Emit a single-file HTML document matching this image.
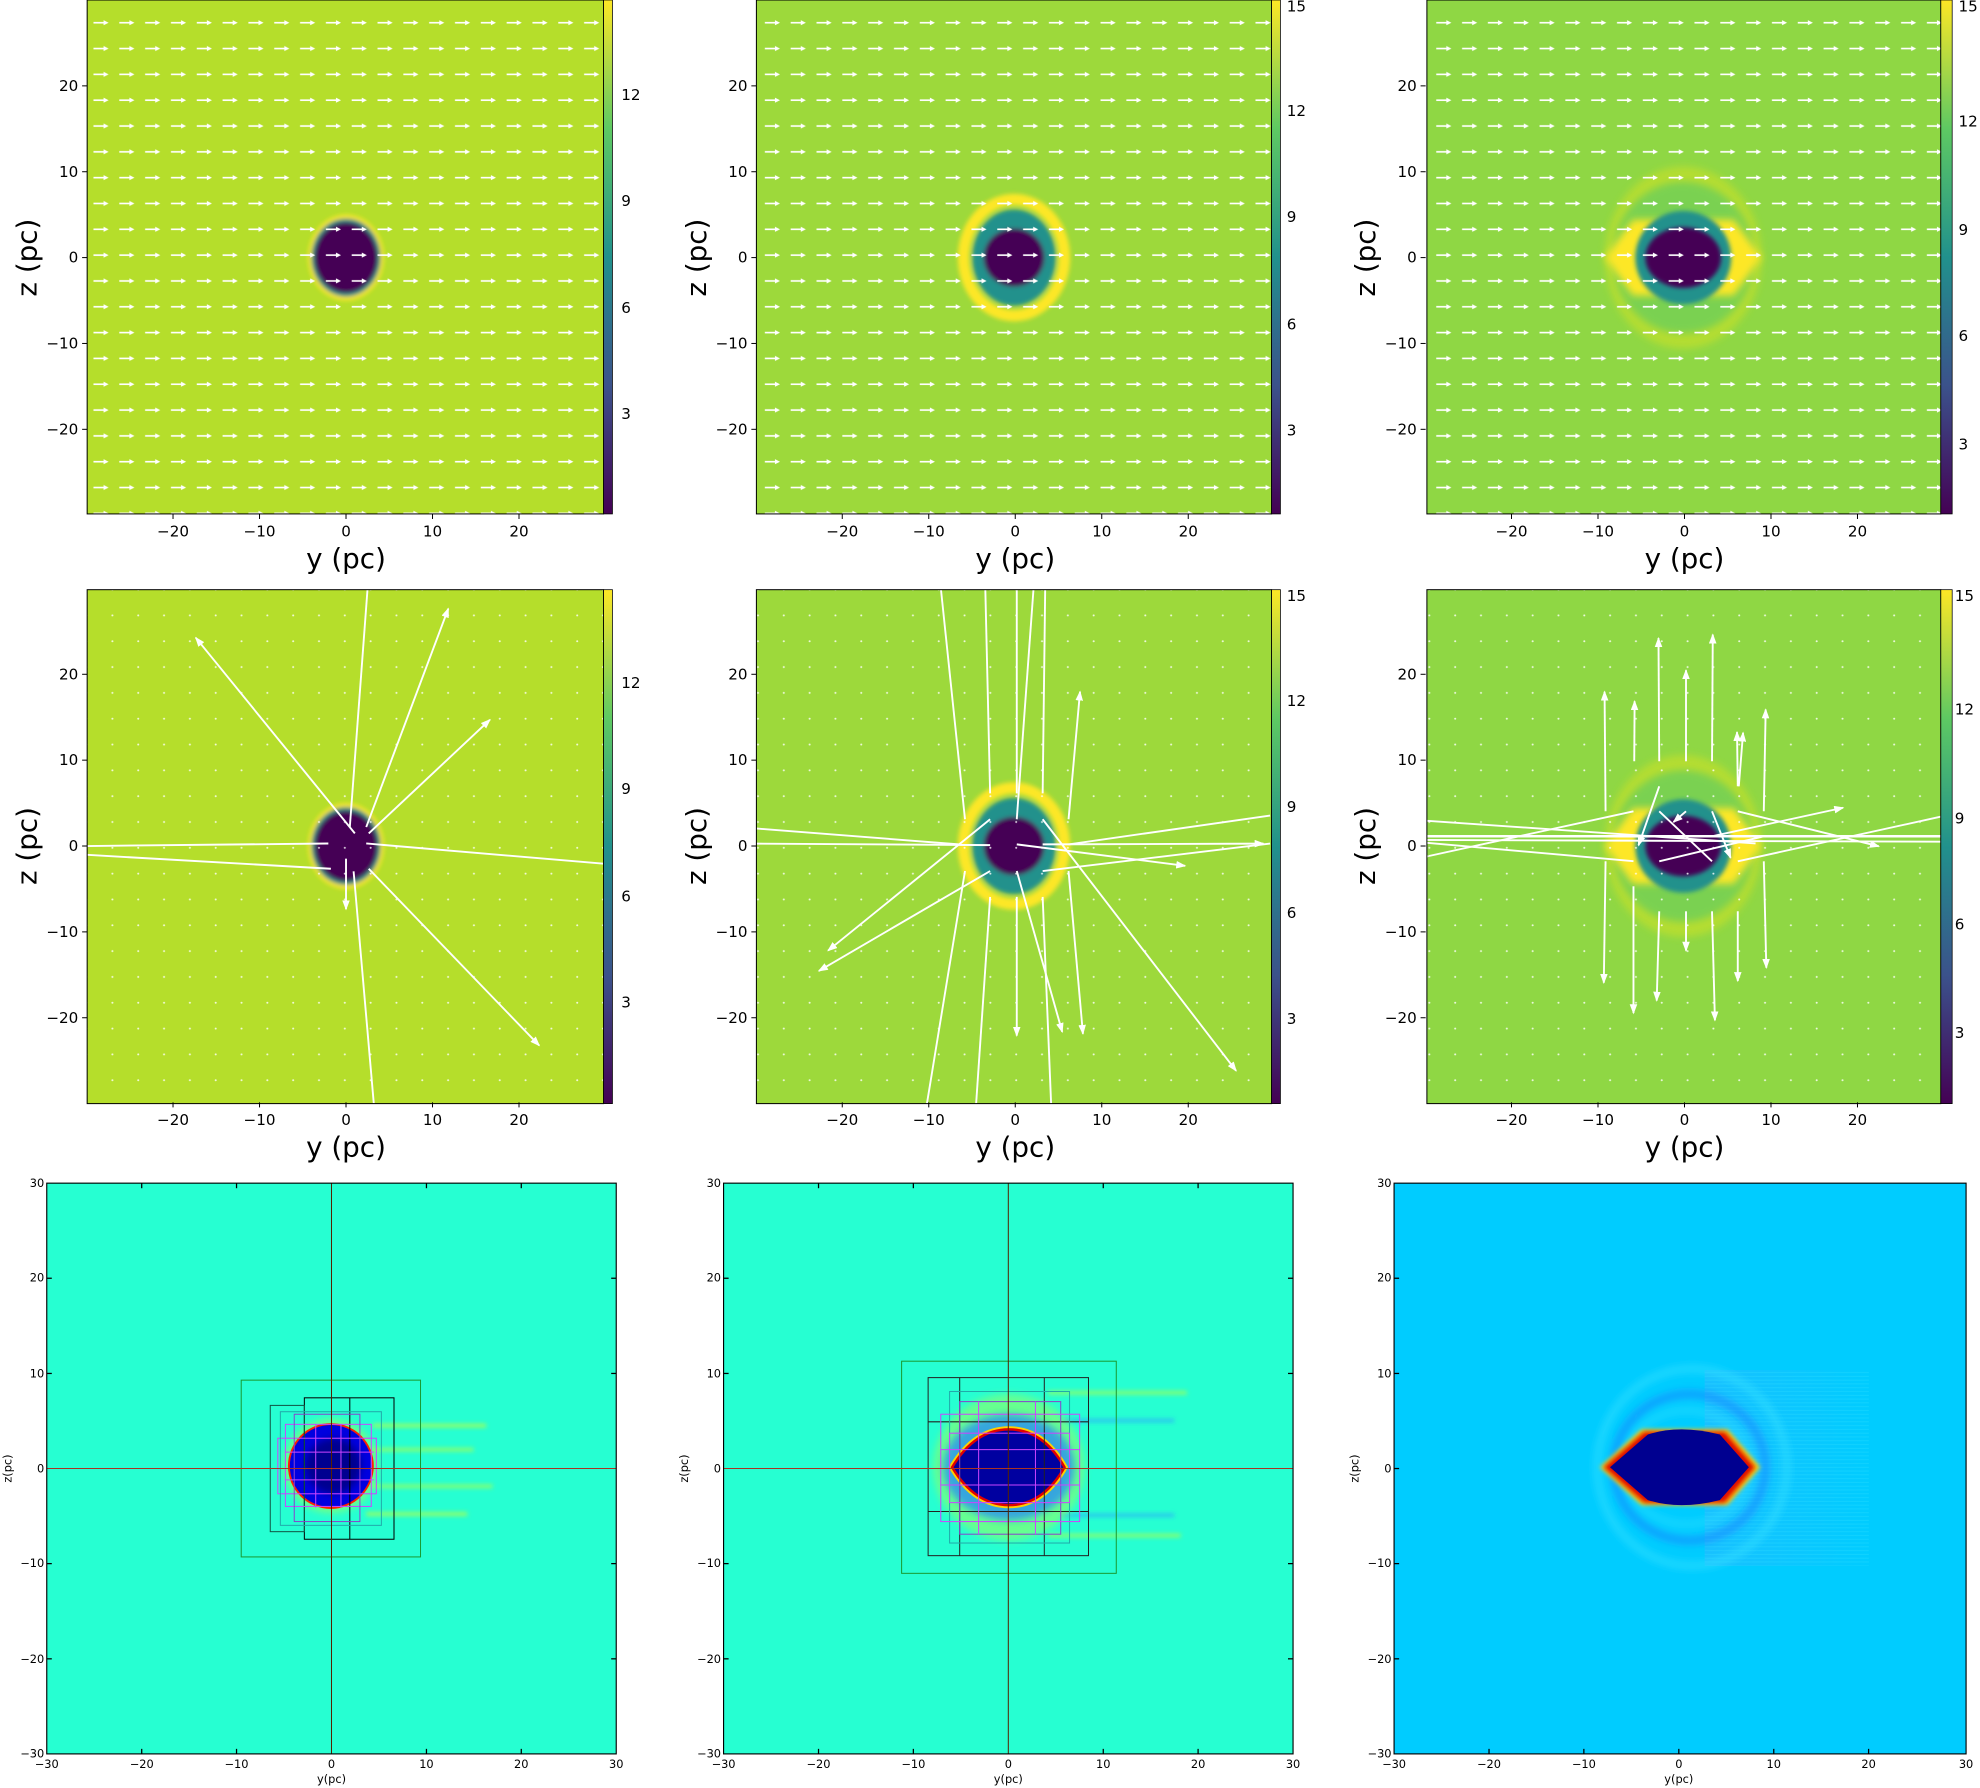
<!DOCTYPE html>
<html><head><meta charset="utf-8"><style>
html,body{margin:0;padding:0;background:#fff;}
svg{display:block;}
text{font-family:"DejaVu Sans","Liberation Sans",sans-serif;fill:#000;}
</style></head><body>
<svg width="1980" height="1788" viewBox="0 0 1568 1416" xmlns="http://www.w3.org/2000/svg">
<defs>
<linearGradient id="vir" x1="0" y1="1" x2="0" y2="0">
<stop offset="0" stop-color="#440154"/><stop offset="0.25" stop-color="#3b528b"/><stop offset="0.5" stop-color="#21918c"/><stop offset="0.75" stop-color="#5ec962"/><stop offset="1" stop-color="#fde725"/></linearGradient>
<linearGradient id="wake" x1="0" y1="0" x2="1" y2="0">
<stop offset="0" stop-color="#2ab8ff" stop-opacity="0.6"/><stop offset="1" stop-color="#2ab8ff" stop-opacity="0"/></linearGradient>
<pattern id="qv" patternUnits="userSpaceOnUse" x="73" y="8" width="20.45" height="20.45">
<line x1="1" y1="10" x2="10" y2="10" stroke="#fff" stroke-width="1.3"/><path d="M9,8 L13,10 L9,12Z" fill="#fff"/></pattern>
<pattern id="dots" patternUnits="userSpaceOnUse" x="79" y="7" width="20.45" height="20.45">
<circle cx="10" cy="10" r="0.8" fill="#fff" opacity="0.8"/></pattern>
<pattern id="streak" patternUnits="userSpaceOnUse" x="0" y="0" width="40" height="3">
<line x1="0" y1="1" x2="40" y2="1" stroke="#40e8ff" stroke-width="0.7" opacity="0.5"/></pattern>
<marker id="ah" markerWidth="8" markerHeight="6" refX="7" refY="3" orient="auto" markerUnits="userSpaceOnUse"><path d="M0,0 L8,3 L0,6Z" fill="#fff"/></marker>
<filter id="bl" x="-50%" y="-50%" width="200%" height="200%"><feGaussianBlur stdDeviation="1.6"/></filter>
<filter id="bl3" x="-50%" y="-50%" width="200%" height="200%"><feGaussianBlur stdDeviation="3"/></filter>
<g id="b1" filter="url(#bl)">
<ellipse cx="0" cy="0" rx="30" ry="34" fill="#fde725"/><ellipse cx="0" cy="0" rx="27.5" ry="31" fill="#21918c"/><ellipse cx="0" cy="0" rx="25" ry="28" fill="#440154"/></g>
<g id="b2" filter="url(#bl)">
<ellipse cx="0" cy="0" rx="40" ry="46" fill="none" stroke="#fde725" stroke-width="9"/><ellipse cx="0" cy="0" rx="33" ry="38" fill="#21918c"/><ellipse cx="0" cy="0" rx="24" ry="23" fill="#440154"/></g>
<g id="b3">
<ellipse cx="0" cy="0" rx="62" ry="72" fill="#c4e02a" opacity="0.7" filter="url(#bl3)"/>
<ellipse cx="0" cy="0" rx="56" ry="60" fill="#7ad151" filter="url(#bl3)"/>
<path d="M-62,0 L-40,-30 L40,-30 L62,0 L40,30 L-40,30Z" fill="#fde725" filter="url(#bl3)"/>
<ellipse cx="0" cy="0" rx="38" ry="37" fill="#21918c" filter="url(#bl)"/>
<ellipse cx="0" cy="0" rx="30" ry="24" fill="#440154" filter="url(#bl)"/></g>
</defs>

<!-- ROW 1 -->
<rect x="69" y="0" width="409" height="407" fill="#b5de2b"/>
<rect x="599" y="0" width="408" height="407" fill="#9dd93b"/>
<rect x="1130" y="0" width="407" height="407" fill="#8fd744"/>
<use href="#b1" x="274" y="204"/><use href="#b2" x="803" y="204"/><use href="#b3" x="1333" y="204"/>
<rect x="69" y="0" width="409" height="407" fill="url(#qv)"/>
<rect x="599" y="0" width="408" height="407" fill="url(#qv)"/>
<rect x="1130" y="0" width="407" height="407" fill="url(#qv)"/>
<!-- ROW 2 -->
<rect x="69" y="467" width="409" height="407" fill="#b5de2b"/>
<rect x="599" y="467" width="408" height="407" fill="#9dd93b"/>
<rect x="1130" y="467" width="407" height="407" fill="#8fd744"/>
<use href="#b1" x="274" y="670"/><use href="#b2" x="803" y="670"/><use href="#b3" x="1333" y="670"/>
<rect x="69" y="467" width="409" height="407" fill="url(#dots)"/>
<rect x="599" y="467" width="408" height="407" fill="url(#dots)"/>
<rect x="1130" y="467" width="407" height="407" fill="url(#dots)"/>

<g stroke="#fff" stroke-width="1.5" fill="none">
<line x1="281" y1="660" x2="155" y2="505" marker-end="url(#ah)"/>
<line x1="277" y1="655" x2="291" y2="467"/>
<line x1="290" y1="655" x2="355" y2="482" marker-end="url(#ah)"/>
<line x1="292" y1="660" x2="388" y2="570" marker-end="url(#ah)"/>
<line x1="290" y1="668" x2="478" y2="684"/>
<line x1="260" y1="668" x2="69" y2="670"/>
<line x1="262" y1="688" x2="69" y2="677"/>
<line x1="292" y1="688" x2="427" y2="828" marker-end="url(#ah)"/>
<line x1="280" y1="690" x2="296" y2="874"/>
<line x1="274" y1="680" x2="274" y2="720" marker-end="url(#ah)"/>
<line x1="764.2" y1="648.8" x2="745.2" y2="467.2"/>
<line x1="784.1" y1="628.3" x2="780.3" y2="467.2"/>
<line x1="805.2" y1="628.3" x2="805.2" y2="467.2"/>
<line x1="805.2" y1="648.8" x2="818.4" y2="467.2"/>
<line x1="825.7" y1="628.3" x2="827.7" y2="467.2"/>
<line x1="846.2" y1="648.8" x2="855.3" y2="547.8" marker-end="url(#ah)"/>
<line x1="598.7" y1="656.1" x2="759.2" y2="668.7"/>
<line x1="598.7" y1="668.1" x2="784.1" y2="669.3"/>
<line x1="784.1" y1="648.8" x2="655.8" y2="752.8" marker-end="url(#ah)"/>
<line x1="784.1" y1="689.8" x2="648.5" y2="768.9" marker-end="url(#ah)"/>
<line x1="764.2" y1="689.8" x2="734" y2="874.3"/>
<line x1="784.1" y1="710.3" x2="773" y2="874.3"/>
<line x1="805.2" y1="710.3" x2="805.2" y2="820.2" marker-end="url(#ah)"/>
<line x1="805.2" y1="689.8" x2="841.2" y2="817.2" marker-end="url(#ah)"/>
<line x1="825.7" y1="710.3" x2="832.4" y2="874.3"/>
<line x1="846.2" y1="689.8" x2="857.6" y2="818.7" marker-end="url(#ah)"/>
<line x1="825.7" y1="648.8" x2="978.9" y2="848" marker-end="url(#ah)"/>
<line x1="805.2" y1="668.7" x2="938.5" y2="685.7" marker-end="url(#ah)"/>
<line x1="825.7" y1="668.7" x2="1000.6" y2="668.1" marker-end="url(#ah)"/>
<line x1="846.2" y1="668.7" x2="1005.8" y2="645.9"/>
<line x1="825.7" y1="689.8" x2="1005.8" y2="668.1"/>
<line x1="1271.5" y1="642.5" x2="1270.7" y2="547.8" marker-end="url(#ah)"/>
<line x1="1294.2" y1="602.9" x2="1294.5" y2="555.4" marker-end="url(#ah)"/>
<line x1="1314" y1="602.9" x2="1313.4" y2="505.4" marker-end="url(#ah)"/>
<line x1="1335.2" y1="602.9" x2="1335.2" y2="530.8" marker-end="url(#ah)"/>
<line x1="1355.8" y1="602.9" x2="1356.4" y2="502.6" marker-end="url(#ah)"/>
<line x1="1376.2" y1="622.7" x2="1375.6" y2="579.8" marker-end="url(#ah)"/>
<line x1="1377" y1="622.7" x2="1380.4" y2="580.3" marker-end="url(#ah)"/>
<line x1="1396.8" y1="642.5" x2="1398.3" y2="561.9" marker-end="url(#ah)"/>
<line x1="1271.5" y1="682.1" x2="1270.1" y2="778.3" marker-end="url(#ah)"/>
<line x1="1293.6" y1="701.9" x2="1293.6" y2="802.3" marker-end="url(#ah)"/>
<line x1="1314" y1="721.7" x2="1312" y2="792.4" marker-end="url(#ah)"/>
<line x1="1335.2" y1="721.7" x2="1335.2" y2="752.8" marker-end="url(#ah)"/>
<line x1="1355.8" y1="721.7" x2="1358.1" y2="808" marker-end="url(#ah)"/>
<line x1="1376.2" y1="721.7" x2="1376.2" y2="776.9" marker-end="url(#ah)"/>
<line x1="1396.8" y1="682.1" x2="1398.8" y2="766.4" marker-end="url(#ah)"/>
<line x1="1124.5" y1="662.3" x2="1536.8" y2="662.3" stroke-width="2"/>
<line x1="1124.5" y1="649.6" x2="1390.3" y2="668"/>
<line x1="1131.6" y1="677.9" x2="1293.6" y2="642.5" marker-start="url(#ah)"/>
<line x1="1124.5" y1="667" x2="1293.6" y2="682"/>
<line x1="1376.2" y1="642.5" x2="1487.9" y2="670.2" marker-end="url(#ah)"/>
<line x1="1376.2" y1="682.1" x2="1536.8" y2="646.8"/>
<line x1="1536.8" y1="666.6" x2="1124.5" y2="665.2"/>
<line x1="1355.8" y1="642.5" x2="1370.5" y2="679.3" marker-end="url(#ah)"/>
<line x1="1314" y1="622.7" x2="1297.6" y2="669.4" marker-end="url(#ah)"/>
<line x1="1314" y1="642.5" x2="1355.8" y2="682.1"/>
<line x1="1335.2" y1="642.5" x2="1325.3" y2="651" marker-end="url(#ah)"/>
<line x1="1355.8" y1="662.3" x2="1459.6" y2="639.7" marker-end="url(#ah)"/>
<line x1="1314" y1="682.1" x2="1396.8" y2="662.3"/>
</g>

<g fill="none" stroke="#000" stroke-width="0.8">
<rect x="69" y="0" width="409" height="407"/><rect x="599" y="0" width="408" height="407"/><rect x="1130" y="0" width="407" height="407"/>
<rect x="69" y="467" width="409" height="407"/><rect x="599" y="467" width="408" height="407"/><rect x="1130" y="467" width="407" height="407"/>
</g>
<g stroke="#000" stroke-width="0.6">
<rect x="478" y="0" width="7" height="407" fill="url(#vir)"/><rect x="1007" y="0" width="7" height="407" fill="url(#vir)"/><rect x="1537" y="0" width="9" height="407" fill="url(#vir)"/>
<rect x="478" y="467" width="7" height="407" fill="url(#vir)"/><rect x="1007" y="467" width="7" height="407" fill="url(#vir)"/><rect x="1537" y="467" width="9" height="407" fill="url(#vir)"/>
</g>
<g font-size="12" text-anchor="start">
<text x="492" y="79">12</text><text x="492" y="163">9</text><text x="492" y="248">6</text><text x="492" y="332">3</text>
<text x="1019" y="9">15</text><text x="1019" y="92">12</text><text x="1019" y="176">9</text><text x="1019" y="261">6</text><text x="1019" y="345">3</text>
<text x="1551" y="9">15</text><text x="1551" y="100">12</text><text x="1551" y="186">9</text><text x="1551" y="270">6</text><text x="1551" y="356">3</text>
<text x="492" y="545">12</text><text x="492" y="629">9</text><text x="492" y="714">6</text><text x="492" y="798">3</text>
<text x="1019" y="476">15</text><text x="1019" y="559">12</text><text x="1019" y="643">9</text><text x="1019" y="727">6</text><text x="1019" y="811">3</text>
<text x="1548" y="476">15</text><text x="1548" y="566">12</text><text x="1548" y="652">9</text><text x="1548" y="736">6</text><text x="1548" y="822">3</text>
</g>
<g id="ax1">
<g stroke="#000" stroke-width="0.8">
<line x1="137" y1="407" x2="137" y2="411"/><line x1="205.5" y1="407" x2="205.5" y2="411"/><line x1="274" y1="407" x2="274" y2="411"/><line x1="342.5" y1="407" x2="342.5" y2="411"/><line x1="411" y1="407" x2="411" y2="411"/>
<line x1="65" y1="68" x2="69" y2="68"/><line x1="65" y1="136" x2="69" y2="136"/><line x1="65" y1="204" x2="69" y2="204"/><line x1="65" y1="272" x2="69" y2="272"/><line x1="65" y1="340" x2="69" y2="340"/>
</g>
<g font-size="12" text-anchor="middle">
<text x="137" y="425">−20</text><text x="205.5" y="425">−10</text><text x="274" y="425">0</text><text x="342.5" y="425">10</text><text x="411" y="425">20</text>
</g>
<g font-size="12" text-anchor="end">
<text x="62" y="72">20</text><text x="62" y="140">10</text><text x="62" y="208">0</text><text x="62" y="276">−10</text><text x="62" y="344">−20</text>
</g>
<text x="274" y="450" font-size="22" text-anchor="middle">y (pc)</text>
<text transform="translate(29,204) rotate(-90)" font-size="22" text-anchor="middle">z (pc)</text>
</g>
<use href="#ax1" x="530"/><use href="#ax1" x="1060"/>
<use href="#ax1" y="466"/><use href="#ax1" x="530" y="466"/><use href="#ax1" x="1060" y="466"/>

<!-- ROW 3 -->
<rect x="37" y="937" width="451" height="452" fill="#26ffd2"/>
<rect x="573" y="937" width="451" height="452" fill="#26ffd2"/>
<rect x="1104" y="937" width="453" height="452" fill="#00ccff"/>
<g stroke-width="3" filter="url(#bl)">
<line x1="295" y1="1129" x2="385" y2="1129" stroke="#c8ff30" opacity="0.7"/>
<line x1="295" y1="1148" x2="375" y2="1148" stroke="#c8ff30" opacity="0.6"/>
<line x1="295" y1="1177" x2="390" y2="1177" stroke="#c8ff30" opacity="0.6"/>
<line x1="290" y1="1199" x2="370" y2="1199" stroke="#c8ff30" opacity="0.7"/>
</g>
<circle cx="262" cy="1161" r="37" fill="#a8ff50" opacity="0.6" filter="url(#bl3)"/>
<circle cx="262" cy="1161" r="34" fill="#ff2000"/>
<circle cx="262" cy="1161" r="32.5" fill="#0000e0"/>
<circle cx="264" cy="1161" r="22" fill="#000090" filter="url(#bl3)"/>
<g fill="none" stroke-width="0.8">
<rect x="191" y="1093" width="142" height="140" stroke="#1a9a30"/>
<rect x="241" y="1107" width="71" height="112" stroke="#000"/>
<line x1="277" y1="1107" x2="277" y2="1219" stroke="#000"/>
<rect x="214" y="1113" width="27" height="100" stroke="#115544"/>
<rect x="226" y="1128" width="68" height="65" stroke="#cc44ff"/>
<rect x="220" y="1139" width="78" height="44" stroke="#cc44ff"/>
<rect x="233" y="1120" width="52" height="85" stroke="#8844cc"/>
<rect x="222" y="1118" width="80" height="90" stroke="#22aaaa"/>
<line x1="226" y1="1150" x2="296" y2="1150" stroke="#cc44ff"/><line x1="226" y1="1172" x2="296" y2="1172" stroke="#cc44ff"/>
<line x1="250" y1="1128" x2="250" y2="1194" stroke="#cc44ff"/><line x1="270" y1="1128" x2="270" y2="1194" stroke="#cc44ff"/>
</g>
<g stroke-width="3" filter="url(#bl)">
<line x1="830" y1="1103" x2="940" y2="1103" stroke="#c8ff30" opacity="0.6"/>
<line x1="840" y1="1125" x2="930" y2="1125" stroke="#30a0ff" opacity="0.6"/>
<line x1="840" y1="1200" x2="930" y2="1200" stroke="#30a0ff" opacity="0.6"/>
<line x1="830" y1="1216" x2="935" y2="1216" stroke="#c8ff30" opacity="0.6"/>
</g>
<ellipse cx="799" cy="1162" rx="60" ry="58" fill="#a8ff50" opacity="0.5" filter="url(#bl3)"/>
<ellipse cx="799" cy="1162" rx="52" ry="42" fill="#2080ff" opacity="0.7" filter="url(#bl3)"/>
<path d="M754,1162 Q772,1132 799,1132 Q826,1132 843,1162 Q826,1192 799,1192 Q772,1192 754,1162Z" fill="#000090" stroke="#ffd000" stroke-width="5"/>
<path d="M754,1162 Q772,1132 799,1132 Q826,1132 843,1162 Q826,1192 799,1192 Q772,1192 754,1162Z" fill="#0000a0" stroke="#e00000" stroke-width="2"/>
<g fill="none" stroke-width="0.8">
<rect x="714" y="1078" width="170" height="168" stroke="#1a9a30"/>
<rect x="735" y="1091" width="127" height="141" stroke="#222"/>
<line x1="760" y1="1091" x2="760" y2="1232" stroke="#222"/><line x1="827" y1="1091" x2="827" y2="1232" stroke="#222"/>
<line x1="735" y1="1126" x2="862" y2="1126" stroke="#222"/><line x1="735" y1="1197" x2="862" y2="1197" stroke="#222"/>
<rect x="752" y="1102" width="95" height="120" stroke="#22aaaa"/>
<rect x="760" y="1110" width="80" height="105" stroke="#8844cc"/>
<rect x="745" y="1120" width="110" height="85" stroke="#cc44ff"/>
<rect x="752" y="1135" width="95" height="55" stroke="#cc44ff"/>
<line x1="745" y1="1148" x2="855" y2="1148" stroke="#cc44ff"/><line x1="745" y1="1176" x2="855" y2="1176" stroke="#cc44ff"/>
<line x1="775" y1="1110" x2="775" y2="1215" stroke="#cc44ff"/><line x1="820" y1="1110" x2="820" y2="1215" stroke="#cc44ff"/>
</g>
<!-- col3 -->
<rect x="1350" y="1085" width="130" height="155" fill="url(#wake)"/>
<rect x="1350" y="1085" width="130" height="155" fill="url(#streak)" opacity="0.6"/>
<g fill="none" filter="url(#bl3)">
<ellipse cx="1340" cy="1162" rx="75" ry="78" stroke="#30e0ff" stroke-width="6" opacity="0.6"/>
<ellipse cx="1338" cy="1162" rx="60" ry="58" stroke="#1a80ff" stroke-width="6" opacity="0.6"/>
<ellipse cx="1336" cy="1162" rx="50" ry="45" stroke="#30e0ff" stroke-width="5" opacity="0.5"/>
</g>
<path d="M1267,1162 L1300,1132 L1368,1132 L1394,1162 L1368,1192 L1300,1192Z" fill="#ffd000" filter="url(#bl)"/>
<path d="M1270,1162 L1302,1134 L1366,1134 L1390,1162 L1366,1190 L1302,1190Z" fill="#e01000" filter="url(#bl)"/>
<path d="M1275,1162 L1305,1136 Q1330,1128 1362,1136 L1385,1162 L1362,1188 Q1330,1196 1305,1188Z" fill="#000090"/>
<g id="ax3">
<line x1="262.5" y1="937" x2="262.5" y2="1389" stroke="#552200" stroke-width="0.8"/>
<line x1="37" y1="1163" x2="488" y2="1163" stroke="#aa3322" stroke-width="0.8"/>
<rect x="37" y="937" width="451" height="452" fill="none" stroke="#000" stroke-width="0.9"/>
<g stroke="#000" stroke-width="1">
<line x1="112.2" y1="1389" x2="112.2" y2="1385"/><line x1="187.3" y1="1389" x2="187.3" y2="1385"/><line x1="337.7" y1="1389" x2="337.7" y2="1385"/><line x1="412.8" y1="1389" x2="412.8" y2="1385"/>
<line x1="112.2" y1="937" x2="112.2" y2="941"/><line x1="187.3" y1="937" x2="187.3" y2="941"/><line x1="337.7" y1="937" x2="337.7" y2="941"/><line x1="412.8" y1="937" x2="412.8" y2="941"/>
<line x1="37" y1="1012.3" x2="41" y2="1012.3"/><line x1="37" y1="1087.7" x2="41" y2="1087.7"/><line x1="37" y1="1238.3" x2="41" y2="1238.3"/><line x1="37" y1="1313.7" x2="41" y2="1313.7"/>
<line x1="488" y1="1012.3" x2="484" y2="1012.3"/><line x1="488" y1="1087.7" x2="484" y2="1087.7"/><line x1="488" y1="1238.3" x2="484" y2="1238.3"/><line x1="488" y1="1313.7" x2="484" y2="1313.7"/>
</g>
<g font-size="9" text-anchor="middle">
<text x="37" y="1400">−30</text><text x="112.2" y="1400">−20</text><text x="187.3" y="1400">−10</text><text x="262.5" y="1400">0</text><text x="337.7" y="1400">10</text><text x="412.8" y="1400">20</text><text x="488" y="1400">30</text>
<text x="262.5" y="1412">y(pc)</text>
</g>
<g font-size="9" text-anchor="end">
<text x="35" y="940">30</text><text x="35" y="1015">20</text><text x="35" y="1091">10</text><text x="35" y="1166">0</text><text x="35" y="1241">−10</text><text x="35" y="1317">−20</text><text x="35" y="1392">−30</text>
</g>
<text transform="translate(9,1163) rotate(-90)" font-size="9" text-anchor="middle">z(pc)</text>
</g>
<use href="#ax3" x="536"/>
<g transform="translate(1067,0)">
<rect x="37" y="937" width="453" height="452" fill="none" stroke="#000" stroke-width="0.9"/>
<g stroke="#000" stroke-width="1">
<line x1="112.2" y1="1389" x2="112.2" y2="1385"/><line x1="187.3" y1="1389" x2="187.3" y2="1385"/><line x1="262.5" y1="1389" x2="262.5" y2="1385"/><line x1="337.7" y1="1389" x2="337.7" y2="1385"/><line x1="412.8" y1="1389" x2="412.8" y2="1385"/>
<line x1="37" y1="1012.3" x2="41" y2="1012.3"/><line x1="37" y1="1087.7" x2="41" y2="1087.7"/><line x1="37" y1="1163" x2="41" y2="1163"/><line x1="37" y1="1238.3" x2="41" y2="1238.3"/><line x1="37" y1="1313.7" x2="41" y2="1313.7"/>
</g>
<g font-size="9" text-anchor="middle">
<text x="37" y="1400">−30</text><text x="112.2" y="1400">−20</text><text x="187.3" y="1400">−10</text><text x="262.5" y="1400">0</text><text x="337.7" y="1400">10</text><text x="412.8" y="1400">20</text><text x="490" y="1400">30</text>
<text x="262.5" y="1412">y(pc)</text>
</g>
<g font-size="9" text-anchor="end">
<text x="35" y="940">30</text><text x="35" y="1015">20</text><text x="35" y="1091">10</text><text x="35" y="1166">0</text><text x="35" y="1241">−10</text><text x="35" y="1317">−20</text><text x="35" y="1392">−30</text>
</g>
<text transform="translate(9,1163) rotate(-90)" font-size="9" text-anchor="middle">z(pc)</text>
</g>
</svg>
</body></html>
